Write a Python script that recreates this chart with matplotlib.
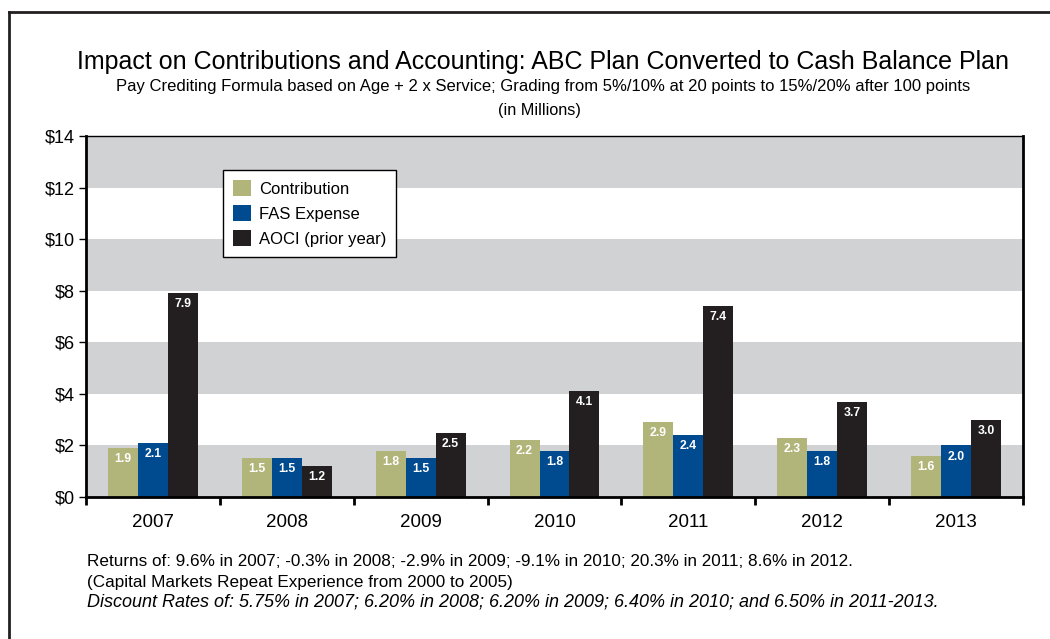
import matplotlib.pyplot as plt
import numpy as np
from matplotlib.lines import Line2D

plt.rcParams['font.family'] = ['Liberation Sans', 'DejaVu Sans']

years = ['2007', '2008', '2009', '2010', '2011', '2012', '2013']
contribution = [1.9, 1.5, 1.8, 2.2, 2.9, 2.3, 1.6]
fas_expense = [2.1, 1.5, 1.5, 1.8, 2.4, 1.8, 2.0]
aoci = [7.9, 1.2, 2.5, 4.1, 7.4, 3.7, 3.0]
series_names = ['Contribution', 'FAS Expense', 'AOCI (prior year)']
colors = ['#B1B57A', '#004A8F', '#231F20']
y_ticks = [0, 2, 4, 6, 8, 10, 12, 14]

notes = [
    'Returns of: 9.6% in 2007; -0.3% in 2008; -2.9% in 2009; -9.1% in 2010; 20.3% in 2011; 8.6% in 2012.',
    '(Capital Markets Repeat Experience from 2000 to 2005)',
    'Discount Rates of: 5.75% in 2007; 6.20% in 2008; 6.20% in 2009; 6.40% in 2010; and 6.50% in 2011-2013.',
]

fig = plt.figure(figsize=(10.5, 6.39), dpi=100)
ax = fig.add_axes([86 / 1050, 1 - 497 / 639, 937 / 1050, 361 / 639])

# alternating grey bands
for lo in range(0, 14, 4):
    ax.axhspan(lo, lo + 2, color='#D1D2D4', zorder=0, lw=0)

x = np.arange(len(years))
w = 0.224
for i, (vals, name, c) in enumerate(zip([contribution, fas_expense, aoci], series_names, colors)):
    pos = x + (i - 1) * w
    bars = ax.bar(pos, vals, width=w, color=c, label=name, zorder=2)
    for b, v in zip(bars, vals):
        ax.text(b.get_x() + b.get_width() / 2, v - 0.2, f'{v:.1f}', ha='center', va='top',
                color='white', fontsize=8.8, fontweight='bold', zorder=3)

ax.set_xlim(-0.5, 6.5)
ax.set_ylim(0, 14)
ax.set_yticks(y_ticks)
ax.set_yticklabels([f'${v}' for v in y_ticks], fontsize=13)
ax.tick_params(axis='y', direction='out', length=5, width=1, pad=3)

ax.set_xticks(x)
ax.set_xticklabels(years, fontsize=13.5)
ax.tick_params(axis='x', which='major', length=0, pad=12)
ax.set_xticks(np.arange(-0.5, 7, 1), minor=True)
ax.tick_params(axis='x', which='minor', direction='out', length=6, width=2)

for s in ['left', 'right', 'bottom']:
    ax.spines[s].set_linewidth(2)
ax.spines['top'].set_linewidth(1)

leg = ax.legend(loc='upper left', bbox_to_anchor=(0.146, 0.906), borderaxespad=0,
                fontsize=12, frameon=True, fancybox=False, edgecolor='black',
                handlelength=1.1, handleheight=1.1, handletextpad=0.45,
                labelspacing=0.5, borderpad=0.6)
leg.get_frame().set_linewidth(1)
leg.get_frame().set_facecolor('white')
leg.get_frame().set_alpha(1)

fig.text(0.517, 1 - 62 / 639, 'Impact on Contributions and Accounting: ABC Plan Converted to Cash Balance Plan',
         ha='center', va='center', fontsize=18)
fig.text(0.517, 1 - 86 / 639,
         'Pay Crediting Formula based on Age + 2 x Service; Grading from 5%/10% at 20 points to 15%/20% after 100 points',
         ha='center', va='center', fontsize=12)
fig.text(0.514, 1 - 110 / 639, '(in Millions)', ha='center', va='center', fontsize=11.7)

for k, line in enumerate(notes):
    fig.text(87 / 1050, 1 - (562 + 20 * k) / 639, line, ha='left', va='center',
             fontsize=13 if k == 2 else 12.3,
             style='italic' if k == 2 else 'normal')

# outer frame
fig.add_artist(Line2D([9 / 1050, 1], [1 - 12 / 639] * 2, color='#231F20', lw=2))
fig.add_artist(Line2D([9 / 1050] * 2, [0, 1 - 12 / 639], color='#231F20', lw=2))

fig.savefig('out.png', dpi=100)
